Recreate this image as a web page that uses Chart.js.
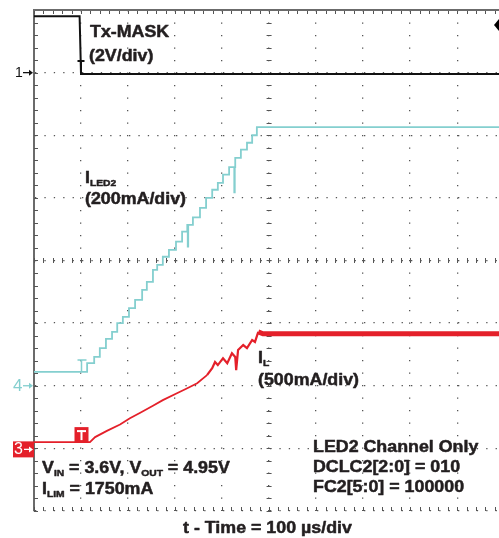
<!DOCTYPE html>
<html>
<head>
<meta charset="utf-8">
<script src="https://cdn.jsdelivr.net/npm/chart.js@4"></script>
<style>
  html, body { margin: 0; padding: 0; background: #fff; overflow: hidden; }
</style>
</head>
<body>
<canvas id="scope" width="499" height="538"></canvas>
<script>
// x in µs (100 µs/div), y in screen divisions (0 = centre graticule line)
const txMaskTime = [0, 97, 100, 989];
const txMaskDiv  = [3.90, 3.90, 2.98, 2.98];

const iledTime = [0, 113, 128, 140, 153, 166, 177, 189, 202, 215, 230, 240, 253, 262, 274, 287, 302, 315,
                  326, 327, 328, 338, 353, 366, 379, 391, 402, 415, 426, 427, 428, 440, 453, 464, 474, 989];
const iledDiv  = [-1.78, -1.64, -1.54, -1.40, -1.25, -1.14, -1.00, -0.90, -0.76, -0.63, -0.47, -0.34, -0.15, -0.07,
                  0.06, 0.17, 0.30, 0.46, 0.57, 0.22, 0.57, 0.69, 0.84, 1.00, 1.13, 1.24, 1.37, 1.49, 1.09, 1.49,
                  1.64, 1.77, 1.88, 2.00, 2.13, 2.13];

const ilTime = [0, 115, 119, 130, 155, 183, 204, 226, 253, 274, 304, 326, 347, 368, 379, 385, 391, 402, 411,
                421, 428, 430, 434, 445, 453, 464, 470, 477, 487, 989];
const ilDiv  = [-2.90, -2.90, -2.90, -2.82, -2.72, -2.62, -2.52, -2.43, -2.32, -2.23, -2.12, -2.04, -1.96, -1.83,
                -1.72, -1.62, -1.67, -1.56, -1.64, -1.48, -1.54, -1.75, -1.43, -1.35, -1.40, -1.27, -1.30, -1.14,
                -1.17, -1.17];

const markerLabels = ['1', '4', '3'];
const markerLevels = [3, -2, -3];
const triggerTime = 100;

const xTicks = [0, 100, 200, 300, 400, 500, 600, 700, 800, 900];
const yTicks = [-4, -3, -2, -1, 0, 1, 2, 3, 4];

const INK = '#231f20';
const CYAN = '#84cfcf';
const RED = '#e4202a';
const FONT = '"Liberation Sans", Arial, sans-serif';

function toPoints(ts, ys) {
  return ts.map((t, i) => ({ x: t, y: ys[i] }));
}

// text with optional subscripts, slightly stretched and heavy like the scope print
function drawRich(ctx, parts, x, y, size) {
  ctx.save();
  ctx.translate(x, y);
  ctx.scale(1.08, 1);
  ctx.fillStyle = INK;
  ctx.strokeStyle = INK;
  ctx.lineWidth = 0.5;
  ctx.lineJoin = 'round';
  ctx.textBaseline = 'alphabetic';
  let cx = 0;
  parts.forEach(p => {
    const sub = Array.isArray(p);
    const s = sub ? p[0] : p;
    ctx.font = `bold ${sub ? 9.5 : size}px ${FONT}`;
    ctx.fillText(s, cx, sub ? 2.5 : 0);
    ctx.strokeText(s, cx, sub ? 2.5 : 0);
    cx += ctx.measureText(s).width;
  });
  ctx.restore();
}

function arrow(ctx, x1, x2, y, color) {
  ctx.strokeStyle = color;
  ctx.fillStyle = color;
  ctx.lineWidth = 1.3;
  ctx.beginPath();
  ctx.moveTo(x1, y); ctx.lineTo(x2 - 3, y);
  ctx.stroke();
  ctx.beginPath();
  ctx.moveTo(x2, y); ctx.lineTo(x2 - 4, y - 3); ctx.lineTo(x2 - 4, y + 3);
  ctx.closePath();
  ctx.fill();
}

const scopePlugin = {
  id: 'scope',
  beforeDatasetsDraw(chart) {
    const { ctx, chartArea: a, scales: { x, y } } = chart;
    ctx.save();
    ctx.strokeStyle = '#555';
    ctx.lineWidth = 1;
    const xc = x.getPixelForValue(500), yc = y.getPixelForValue(0);
    ctx.beginPath();
    // minor ticks, 5 per division
    for (let t = 0; t <= x.max; t += 20) {
      const px = Math.round(x.getPixelForValue(t)) + 0.5;
      ctx.moveTo(px, yc - 2.5); ctx.lineTo(px, yc + 2.5);
      ctx.moveTo(px, a.top); ctx.lineTo(px, a.top + 4);
      ctx.moveTo(px, a.bottom); ctx.lineTo(px, a.bottom - 4);
    }
    for (let d = -4; d <= 4.001; d += 0.2) {
      const py = Math.round(y.getPixelForValue(d)) + 0.5;
      ctx.moveTo(xc - 2.5, py); ctx.lineTo(xc + 2.5, py);
      ctx.moveTo(a.left, py); ctx.lineTo(a.left + 4, py);
    }
    ctx.stroke();
    // top frame
    ctx.strokeStyle = '#6b6b6b';
    ctx.lineWidth = 2;
    ctx.beginPath();
    ctx.moveTo(a.left - 1, a.top); ctx.lineTo(a.right, a.top);
    ctx.stroke();
    ctx.restore();
  },
  afterDatasetsDraw(chart) {
    const { ctx, chartArea: a, scales: { x, y } } = chart;
    ctx.save();

    // channel ground markers
    const colors = ['#111', CYAN, RED];
    markerLabels.forEach((lab, i) => {
      const py = y.getPixelForValue(markerLevels[i]);
      ctx.textBaseline = 'middle';
      if (lab === '3') {
        ctx.fillStyle = RED;
        ctx.fillRect(13, py - 7, 21, 16);
        ctx.fillStyle = '#fff';
        ctx.font = `16px ${FONT}`;
        ctx.fillText(lab, 14, py + 1.5);
        arrow(ctx, 24, 33, py + 1, '#fff');
      } else {
        ctx.fillStyle = colors[i];
        ctx.font = `${i === 0 ? 14 : 17}px ${FONT}`;
        ctx.fillText(lab, i === 0 ? 15 : 13, py + 0.5);
        arrow(ctx, 23, 33, py, colors[i]);
      }
    });

    // trigger markers
    const tx = Math.round(x.getPixelForValue(triggerTime)) + 0.5;
    ctx.lineWidth = 2;
    ctx.strokeStyle = '#111';
    ctx.beginPath();
    ctx.moveTo(tx - 4, 61); ctx.lineTo(tx + 3, 61);
    ctx.moveTo(tx - 0.5, 61); ctx.lineTo(tx - 0.5, 73);
    ctx.stroke();

    const cyBase = y.getPixelForValue(iledDiv[0]);
    ctx.lineWidth = 1.5;
    ctx.strokeStyle = CYAN;
    ctx.beginPath();
    ctx.moveTo(tx - 4, cyBase - 12); ctx.lineTo(tx + 5, cyBase - 12);
    ctx.moveTo(tx, cyBase - 12); ctx.lineTo(tx, cyBase);
    ctx.stroke();

    const rdBase = y.getPixelForValue(ilDiv[0]);
    ctx.fillStyle = RED;
    ctx.fillRect(tx - 7, rdBase - 15, 14, 15);
    ctx.fillStyle = '#fff';
    ctx.fillRect(tx - 4.5, rdBase - 12, 9, 2);
    ctx.fillRect(tx - 1, rdBase - 12, 2, 10);

    // diamond at right edge
    ctx.fillStyle = '#000';
    ctx.beginPath();
    ctx.moveTo(a.right - 5, 25); ctx.lineTo(a.right, 19); ctx.lineTo(a.right + 5, 25); ctx.lineTo(a.right, 31);
    ctx.closePath();
    ctx.fill();

    // annotations
    drawRich(ctx, ['Tx-MASK'], 90, 37, 16.5);
    drawRich(ctx, ['(2V/div)'], 89, 61, 16.5);
    drawRich(ctx, ['I', ['LED2']], 85, 183, 16.5);
    drawRich(ctx, ['(200mA/div)'], 85, 204, 16.5);
    drawRich(ctx, ['I', ['L']], 258, 363, 16.5);
    drawRich(ctx, ['(500mA/div)'], 258, 385, 16.5);
    drawRich(ctx, ['V', ['IN'], ' = 3.6V, V', ['OUT'], ' = 4.95V'], 42, 473, 16.5);
    drawRich(ctx, ['I', ['LIM'], ' = 1750mA'], 42, 494, 16.5);
    drawRich(ctx, ['LED2 Channel Only'], 313, 452, 16.5);
    drawRich(ctx, ['DCLC2[2:0] = 010'], 313, 472, 16.5);
    drawRich(ctx, ['FC2[5:0] = 100000'], 313, 492, 16.5);
    drawRich(ctx, ['t - Time = 100 µs/div'], 183, 533, 16.5);

    ctx.restore();
  }
};

new Chart(document.getElementById('scope'), {
  type: 'line',
  data: {
    datasets: [
      { label: 'Tx-MASK', data: toPoints(txMaskTime, txMaskDiv), borderColor: '#111', borderWidth: 2, pointRadius: 0 },
      { label: 'ILED2', data: toPoints(iledTime, iledDiv), borderColor: CYAN, borderWidth: 1.8, pointRadius: 0, stepped: true },
      {
        label: 'IL', data: toPoints(ilTime, ilDiv), borderColor: RED, borderWidth: 1.8, pointRadius: 0,
        segment: { borderWidth: c => c.p0.parsed.x >= 477 ? 5 : (c.p0.parsed.x >= 368 ? 2.2 : 1.8) }
      }
    ]
  },
  options: {
    responsive: false,
    animation: false,
    devicePixelRatio: 1,
    layout: { padding: { left: 34, top: 10, right: 0, bottom: 27 } },
    plugins: { legend: { display: false }, tooltip: { enabled: false } },
    scales: {
      x: {
        type: 'linear', min: 0, max: 989,
        afterBuildTicks: s => { s.ticks = xTicks.map(v => ({ value: v })); },
        ticks: { display: false },
        grid: { color: '#555', lineWidth: 1.3, drawTicks: false },
        border: { display: false, dash: [1.3, 11.2] }
      },
      y: {
        type: 'linear', min: -4, max: 4,
        afterBuildTicks: s => { s.ticks = yTicks.map(v => ({ value: v })); },
        ticks: { display: false },
        grid: { color: '#555', lineWidth: 1.3, drawTicks: false },
        border: { display: true, color: '#6b6b6b', width: 2, dash: [1.3, 8.1] }
      }
    }
  },
  plugins: [scopePlugin]
});
</script>
</body>
</html>
